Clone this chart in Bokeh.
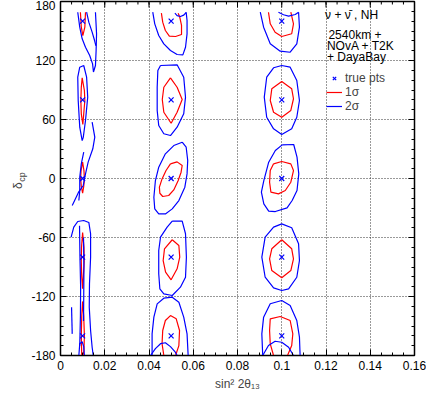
from bokeh.plotting import figure
from bokeh.models import (Range1d, FixedTicker, LinearAxis, Label, Legend, LegendItem,
                          CustomLabelingPolicy)
from bokeh.embed import file_html
from bokeh.resources import INLINE
import math

# ---------------- data ----------------
x_ticks = [0, 0.02, 0.04, 0.06, 0.08, 0.1, 0.12, 0.14, 0.16]
x_tick_labels = ["0", "0.02", "0.04", "0.06", "0.08", "0.1", "0.12", "0.14", "0.16"]
x_minor = [i * 0.005 for i in range(33)]
y_ticks = [-180, -120, -60, 0, 60, 120, 180]
y_tick_labels = ["-180", "-120", "-60", "0", "60", "120", "180"]
y_minor = list(range(-180, 181, 10))

true_s2 = [0.01] * 5 + [0.05] * 5 + [0.1] * 5
true_dcp = [160, 80, 0, -80, -160] * 3

# middle column (0.05)
m1_blue_v = [0.0417, 0.0426, 0.0444, 0.0467, 0.0497, 0.0527, 0.0553, 0.0565, 0.0572, 0.0572, 0.0568]
m1_blue_d = [169.1, 157.3, 145.4, 136.9, 130.2, 126.1, 125.7, 133.5, 147.1, 160.7, 169.1]
m1_arc_v = [0.0517, 0.0527, 0.0542, 0.0557, 0.0568]
m1_arc_d = [168.1, 165.7, 164.7, 166.1, 168.8]
m1_red_v = [0.0456, 0.0462, 0.0474, 0.0492, 0.0520, 0.0547, 0.0547, 0.0539, 0.0532]
m1_red_d = [168.1, 159, 150.5, 144.7, 144.4, 146.4, 155.6, 164, 168.1]
m2_blue_v = [0.0452, 0.0527, 0.0557, 0.0565, 0.0557, 0.0527, 0.0497, 0.0467, 0.0444, 0.0437, 0.0437, 0.0440, 0.0452]
m2_blue_d = [114.9, 115.6, 103.0, 82.7, 65.8, 52.2, 43.7, 45.5, 53.9, 69.2, 92.8, 109.8, 114.9]
m2_red_v = [0.0497, 0.0527, 0.0550, 0.0527, 0.0500, 0.0467, 0.0460, 0.0467, 0.0497]
m2_red_d = [102.4, 92.8, 80.3, 67.4, 56.2, 67.4, 80.3, 92.8, 102.4]
m3_blue_v = [0.0550, 0.0568, 0.0575, 0.0572, 0.0562, 0.0535, 0.0505, 0.0474, 0.0444, 0.0426, 0.0422, 0.0429, 0.0444, 0.0474, 0.0512, 0.0550]
m3_blue_d = [36.9, 31.8, 18.3, 4.7, -8.8, -22.4, -30.9, -36, -36, -30.9, -19, -2.1, 11.5, 25.1, 33.5, 36.9]
m3_red_v = [0.0497, 0.0527, 0.0550, 0.0545, 0.0532, 0.0512, 0.0489, 0.0462, 0.0449, 0.0447, 0.0459, 0.0477, 0.0497]
m3_red_d = [14.9, 16.9, 13.2, 6.4, -2.1, -11.6, -17.3, -18.3, -15, -8.8, -0.4, 8.1, 14.9]
m4_blue_v = [0.0505, 0.0550, 0.0565, 0.0569, 0.0565, 0.0542, 0.0505, 0.0467, 0.0449, 0.0444, 0.0444, 0.0452, 0.0482, 0.0505]
m4_blue_d = [-43.4, -43.4, -56.2, -80, -100.4, -110.5, -119, -117.3, -112.2, -96.9, -73.2, -59.7, -49.5, -43.4]
m4_red_v = [0.0505, 0.0535, 0.0539, 0.0527, 0.0500, 0.0475, 0.0464, 0.0470, 0.0505]
m4_red_d = [-62.3, -68.1, -80, -91.8, -103, -95.3, -83.4, -71.5, -62.3]
m5_blue_v = [0.0414, 0.0414, 0.0422, 0.0437, 0.0467, 0.0505, 0.0535, 0.0557, 0.0572, 0.0577]
m5_blue_d = [-180, -158, -141, -127.5, -121.7, -120.7, -125.8, -141, -158, -180]
m5_arc_v = [0.0407, 0.0429, 0.0452, 0.0474, 0.0497, 0.0517, 0.0527]
m5_arc_d = [-180, -173, -168, -167, -171, -176, -180]
m5_red_v = [0.0467, 0.0459, 0.0462, 0.0474, 0.0497, 0.0523, 0.0538, 0.0535, 0.0520]
m5_red_d = [-180, -168, -154.6, -144.4, -139.4, -142.7, -154.6, -169.9, -180]

# right column (0.1)
r1_blue_v = [0.0903, 0.0918, 0.0948, 0.0993, 0.1038, 0.1068, 0.1080, 0.1076]
r1_blue_d = [169.1, 153.9, 137, 129.5, 128.4, 137, 153.9, 169.1]
r1_arc_v = [0.0985, 0.1008, 0.1031, 0.1061, 0.1076]
r1_arc_d = [169.1, 166.5, 165.2, 166.8, 169.1]
r1_red_v = [0.0940, 0.0948, 0.0970, 0.1000, 0.1045, 0.1053, 0.1041]
r1_red_d = [169.1, 157.3, 148.8, 144.4, 147.2, 157.3, 169.1]
r2_blue_v = [0.1000, 0.1038, 0.1068, 0.1080, 0.1068, 0.1045, 0.1000, 0.0963, 0.0932, 0.0921, 0.0932, 0.0963, 0.1000]
r2_blue_d = [114.9, 113.2, 99.7, 79.3, 62.3, 50.5, 44.7, 50.5, 62.3, 82.7, 103, 112.6, 114.9]
r2_red_v = [0.1000, 0.1045, 0.1053, 0.1041, 0.1000, 0.0963, 0.0948, 0.0955, 0.1000]
r2_red_d = [98.6, 91.2, 81.1, 69.2, 62.3, 67.4, 79.3, 91.2, 98.6]
r3_blue_v = [0.1002, 0.1054, 0.1069, 0.1077, 0.1069, 0.1047, 0.1024, 0.0971, 0.0941, 0.0919, 0.0908, 0.0919, 0.0941, 0.0971, 0.1002]
r3_blue_d = [34.2, 34.6, 21.7, 4.7, -12.2, -22.4, -29.9, -33.6, -33.2, -25.8, -13.9, -2.1, 16.6, 28.5, 34.2]
r3_red_v = [0.0963, 0.1000, 0.1041, 0.1053, 0.1041, 0.1016, 0.0985, 0.0951, 0.0945, 0.0948, 0.0963]
r3_red_d = [14.9, 17.3, 14.9, 8.1, -3.8, -12.2, -15.6, -13.9, -3.8, 8.1, 14.9]
r4_blue_v = [0.1000, 0.1045, 0.1076, 0.1080, 0.1068, 0.1031, 0.1000, 0.0963, 0.0925, 0.0910, 0.0925, 0.0963, 0.1000]
r4_blue_d = [-46.1, -50.1, -66.4, -83.4, -100.4, -112.2, -113.9, -111.2, -100.4, -80, -59.7, -49.5, -46.1]
r4_red_v = [0.1000, 0.1045, 0.1053, 0.1041, 0.1000, 0.0955, 0.0945, 0.0955, 0.1000]
r4_red_d = [-62.3, -71.5, -81.7, -93.6, -101, -93.6, -81.7, -71.5, -62.3]
r5_blue_v = [0.0914, 0.0910, 0.0918, 0.0948, 0.1000, 0.1038, 0.1068, 0.1080, 0.1083]
r5_blue_d = [-180, -158, -141, -127.4, -124.1, -129.2, -144.4, -161.4, -180]
r5_arc_v = [0.0914, 0.0940, 0.0970, 0.1000, 0.1031, 0.1053]
r5_arc_d = [-180, -169.8, -165.5, -166.5, -171.6, -180]
r5_red_v = [0.0963, 0.0948, 0.0945, 0.0948, 0.0993, 0.1038, 0.1050, 0.1045, 0.1026]
r5_red_d = [-180, -168.1, -154.6, -142.7, -140.3, -144.4, -158, -169.8, -180]

# left column (0.01)
l1_blue_v = [0.0078, 0.0087, 0.0098, 0.0113, 0.0132, 0.0145, 0.0149, 0.0158, 0.0161, 0.0163, 0.0158]
l1_blue_d = [169.1, 153.9, 142.1, 133.5, 125.1, 116.6, 108.3, 114.9, 130.2, 147.2, 169.1]
l1_inner_v = [0.0118, 0.0128, 0.0143, 0.0154, 0.0160]
l1_inner_d = [169.1, 159, 148.8, 140.3, 135]
l1_red_v = [0.0090, 0.0094, 0.0101, 0.0110, 0.0113]
l1_red_d = [169.1, 153.9, 145.4, 153.9, 169.1]
l2_blue_v = [0.0105, 0.0118, 0.0123, 0.0113, 0.0103, 0.0098, 0.0087, 0.0080, 0.0078, 0.0087, 0.0105]
l2_blue_d = [114.9, 103, 82.7, 59, 42, 38.6, 52.2, 79.3, 103, 113.2, 114.9]
l2_red_v = [0.0098, 0.0108, 0.0110, 0.0105, 0.0101, 0.0094, 0.0092, 0.0094, 0.0098]
l2_red_d = [102.4, 89.5, 79.3, 65.8, 54.9, 65.8, 79.3, 92.8, 102.4]
l3_blue_v = [0.0143, 0.0155, 0.0146, 0.0125, 0.0113, 0.0103, 0.0081, 0.0066, 0.0053]
l3_blue_d = [57.3, 42, 30.2, 16.6, 4.8, -7.1, -14.2, -21.4, -27.5]
l3_inner_v = [0.0105, 0.0094, 0.0087, 0.0087, 0.0083]
l3_inner_d = [26.7, 14.9, 1.3, -12.2, -22.4]
l3_red_v = [0.0100, 0.0106, 0.0108, 0.0105, 0.0100, 0.0094, 0.0091, 0.0093, 0.0100]
l3_red_d = [16.6, 8, 0, -8, -15, -8, 0, 8, 16.6]
l4_blue_v = [0.0048, 0.0060, 0.0078, 0.0105, 0.0128, 0.0136, 0.0136, 0.0131, 0.0130, 0.0136, 0.0143, 0.0148]
l4_blue_d = [-59.7, -49.5, -43.7, -42.7, -44.7, -56.2, -80, -107.1, -130.9, -154.6, -171.6, -180]
l4_in1_v = [0.0086, 0.0088, 0.0091, 0.0090, 0.0087]
l4_in1_d = [-48, -80, -110, -140, -170]
l4_in2_v = [0.0104, 0.0106, 0.0105, 0.0104]
l4_in2_d = [-60, -90, -120, -145]
l4_red_v = [0.0100, 0.0106, 0.0107, 0.0103, 0.0100, 0.0096, 0.0094, 0.0095, 0.0100]
l4_red_d = [-55, -70, -85, -100, -112, -100, -85, -70, -55]
l5_red_v = [0.0096, 0.0094, 0.0096, 0.0100, 0.0105, 0.0108, 0.0106, 0.0102]
l5_red_d = [-180, -160, -140, -125, -140, -160, -175, -180]
l5_side_v = [0.0050, 0.0053]
l5_side_d = [-130.9, -158]
l5_arc_v = [0.0083, 0.0087, 0.0098, 0.0105, 0.0108]
l5_arc_d = [-180, -168, -166, -171, -180]

red_v = [m1_red_v, m2_red_v, m3_red_v, m4_red_v, m5_red_v,
         r1_red_v, r2_red_v, r3_red_v, r4_red_v, r5_red_v,
         l1_red_v, l2_red_v, l3_red_v, l4_red_v, l5_red_v]
red_d = [m1_red_d, m2_red_d, m3_red_d, m4_red_d, m5_red_d,
         r1_red_d, r2_red_d, r3_red_d, r4_red_d, r5_red_d,
         l1_red_d, l2_red_d, l3_red_d, l4_red_d, l5_red_d]
blue_v = [m1_blue_v, m1_arc_v, m2_blue_v, m3_blue_v, m4_blue_v, m5_blue_v, m5_arc_v,
          r1_blue_v, r1_arc_v, r2_blue_v, r3_blue_v, r4_blue_v, r5_blue_v, r5_arc_v,
          l1_blue_v, l1_inner_v, l2_blue_v, l3_blue_v, l3_inner_v, l4_blue_v,
          l4_in1_v, l4_in2_v, l5_side_v, l5_arc_v]
blue_d = [m1_blue_d, m1_arc_d, m2_blue_d, m3_blue_d, m4_blue_d, m5_blue_d, m5_arc_d,
          r1_blue_d, r1_arc_d, r2_blue_d, r3_blue_d, r4_blue_d, r5_blue_d, r5_arc_d,
          l1_blue_d, l1_inner_d, l2_blue_d, l3_blue_d, l3_inner_d, l4_blue_d,
          l4_in1_d, l4_in2_d, l5_side_d, l5_arc_d]

# y title pieces: position (in delta units) of the "delta" and of its "cp" subscript
ytitle_main_pos = [-3.8]
ytitle_sub_pos = [6.4]

# ---------------- figure ----------------
FONT = "Liberation Sans"
RED = "#ff0000"
BLUE = "#0000ff"

p = figure(width=426, height=398, output_backend="svg", toolbar_location=None,
           x_range=Range1d(0, 0.16), y_range=Range1d(-180, 180),
           min_border_left=60, min_border_right=12, min_border_top=1, min_border_bottom=43,
           background_fill_color="white", border_fill_color="white")
p.outline_line_color = "black"
p.outline_line_width = 1.5

xt = FixedTicker(ticks=x_ticks, minor_ticks=x_minor)
yt = FixedTicker(ticks=y_ticks, minor_ticks=y_minor)
p.xaxis.ticker = xt
p.yaxis.ticker = yt
p.xaxis.major_label_overrides = {t: s for t, s in zip(x_ticks, x_tick_labels)}
p.yaxis.major_label_overrides = {t: s for t, s in zip(y_ticks, y_tick_labels)}

for ax in (p.xaxis[0], p.yaxis[0]):
    ax.major_tick_in = 6
    ax.major_tick_out = 0
    ax.minor_tick_in = 3
    ax.minor_tick_out = 0
    ax.axis_line_color = "black"
    ax.major_tick_line_color = "black"
    ax.minor_tick_line_color = "black"
    ax.major_label_text_font = FONT
    ax.major_label_text_font_size = "12px"
    ax.major_label_text_color = "black"
    ax.major_label_standoff = 5

# x axis title as the axis label (unicode super/subscripts)
p.xaxis.axis_label = "sin\u00b2 2\u03b8\u2081\u2083"
p.xaxis.axis_label_text_font = FONT
p.xaxis.axis_label_text_font_size = "12px"
p.xaxis.axis_label_text_font_style = "normal"
p.xaxis.axis_label_standoff = 4

# y axis title: "delta" with subscript "cp", built from two label-only axes
def title_axis(pos, text, size, standoff):
    ax = LinearAxis(ticker=FixedTicker(ticks=pos, minor_ticks=[]))
    ax.major_label_overrides = {pos[0]: text}
    ax.major_label_orientation = math.pi / 2
    ax.major_label_text_font = FONT
    ax.major_label_text_font_size = size
    ax.major_label_standoff = standoff
    ax.major_tick_in = 0
    ax.major_tick_out = 0
    ax.minor_tick_in = 0
    ax.minor_tick_out = 0
    ax.axis_line_color = None
    ax.major_tick_line_color = None
    ax.minor_tick_line_color = None
    p.add_layout(ax, "left")

title_axis(ytitle_sub_pos, "cp", "9px", 6)
title_axis(ytitle_main_pos, "\u03b4", "12px", -9)

hide_all = CustomLabelingPolicy(code="for (const i of indices) { indices.unset(i) }\nreturn indices")
rax = LinearAxis(ticker=yt, major_label_policy=hide_all)
rax.major_tick_in = 6
rax.major_tick_out = 0
rax.minor_tick_in = 3
rax.minor_tick_out = 0
rax.axis_line_color = None
rax.major_label_text_font_size = "1px"
rax.major_label_standoff = 0
p.add_layout(rax, "right")

# top-edge tick marks (mirror of the bottom axis ticks)
p.segment(x0=x_ticks, y0=[180] * len(x_ticks), x1=x_ticks, y1=[180 - 6.1] * len(x_ticks),
          line_color="black", line_width=1)
p.segment(x0=x_minor, y0=[180] * len(x_minor), x1=x_minor, y1=[180 - 3.05] * len(x_minor),
          line_color="black", line_width=1)

p.xgrid.ticker = xt
p.ygrid.ticker = yt
p.grid.grid_line_color = "#333333"
p.grid.grid_line_dash = "1 2"
p.grid.grid_line_width = 1

red_r = p.multi_line(xs=red_v, ys=red_d, line_color=RED, line_width=1.2)
blue_r = p.multi_line(xs=blue_v, ys=blue_d, line_color=BLUE, line_width=1.2)
pts_r = p.scatter(true_s2, true_dcp, marker="x", size=7, line_color=BLUE, line_width=1.2)

legend = Legend(items=[LegendItem(label="true pts", renderers=[pts_r]),
                       LegendItem(label="1σ", renderers=[red_r]),
                       LegendItem(label="2σ", renderers=[blue_r])],
                location=(266, 242), orientation="vertical",
                padding=0, margin=0, spacing=-5, label_standoff=3,
                glyph_width=16, glyph_height=12, label_height=12,
                label_text_font=FONT, label_text_font_size="12px",
                border_line_alpha=0, background_fill_alpha=0)
p.add_layout(legend, "center")

def lab(x, y, t, size="12px"):
    p.add_layout(Label(x=x, y=y, text=t, text_font=FONT, text_font_size=size,
                       text_baseline="middle", text_align="left", text_color="black"))

# annotation texts
lab(0.1196, 165.8, "\u03bd + \u03bd\u0304 , NH")
lab(0.1211, 146.1, "2540km +")
lab(0.1204, 134.5, "NOvA + T2K")
lab(0.1204, 123.3, "+ DayaBay")

open("out.html", "w").write(file_html(p, INLINE))
